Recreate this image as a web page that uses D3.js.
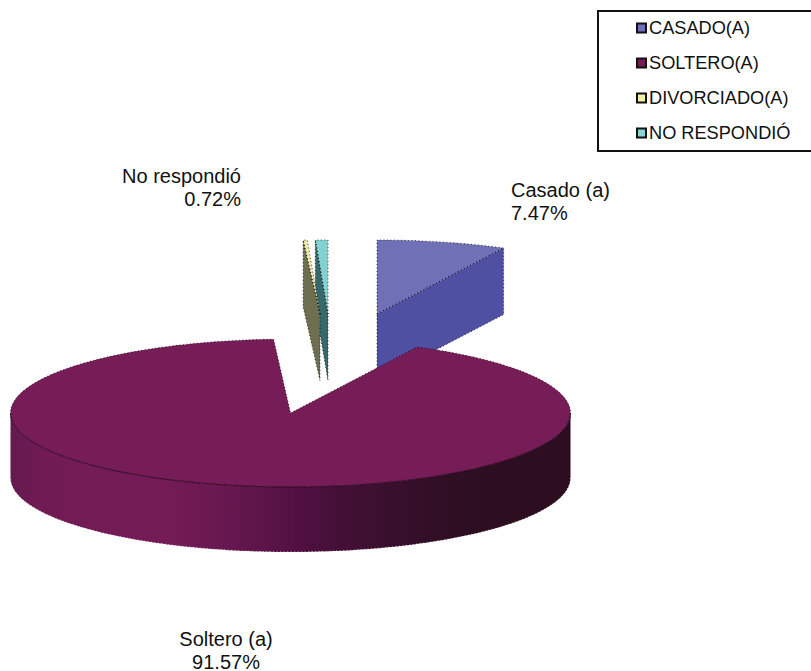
<!DOCTYPE html>
<html><head><meta charset="utf-8">
<script src="https://cdn.jsdelivr.net/npm/d3@7"></script>
<style>html,body{margin:0;padding:0;background:#fff}svg{display:block}text{font-family:"Liberation Sans",Arial,sans-serif;fill:#111}</style>
</head><body><svg id="c" width="811" height="671"></svg>
<script>
const categories = ["CASADO(A)","SOLTERO(A)","DIVORCIADO(A)","NO RESPONDIÓ"];
const values = [7.47,91.57,0.24,0.72];
const dataLabels = [["Casado (a)","7.47%"],["Soltero (a)","91.57%"],null,["No respondió","0.72%"]];
const topColors = ["#7070b6","#761c57","#e9e8a6","#82d2d2"];
const cutColors = ["#4f50a1","#5a1040","#6e6e50","#37686a"];
const swatchColors = ["#6e70b5","#761c57","#f5f0a0","#88d4d4"];

const svg = d3.select("#c");
const cx = 290.5, cy = 413, rx = 280, ry = 74, depth = 65, cutDepth = 66.5;
// explosion offsets of each slice apex, in pixels
const offX = [86.5,0,29.5,37.5], offY = [-99,0,-99,-99];

const arcs = d3.pie().sort(null).value(d=>d)(values);
const xs = d3.scaleLinear().domain([-1,1]).range([-rx,rx]);
const ys = d3.scaleLinear().domain([-1,1]).range([ry,-ry]);
const P = (a,i,dz=0)=>[cx+offX[i]+xs(Math.sin(a)), cy+offY[i]+ys(Math.cos(a))+dz];
const line = d3.line();
const arcPts = (a0,a1,i,dz=0)=>{const n=Math.max(2,Math.ceil((a1-a0)*60));
  return d3.range(n+1).map(k=>P(a0+(a1-a0)*k/n,i,dz));};
const speck = s=>s.attr("stroke","#000").attr("stroke-width",1).attr("stroke-dasharray","1 2.5").attr("stroke-opacity",.75).attr("fill","none");

// wall shading
const grad = svg.append("defs").append("linearGradient").attr("id","wall")
  .attr("gradientUnits","userSpaceOnUse").attr("x1",cx-rx).attr("x2",cx+rx).attr("y1",0).attr("y2",0);
[[0,"#641a50"],[.06,"#711b55"],[.28,"#741b55"],[.38,"#681850"],[.49,"#561145"],[.58,"#450f38"],[.72,"#340f28"],[.85,"#2c0e20"],[1,"#2c0e20"]]
  .forEach(s=>grad.append("stop").attr("offset",s[0]).attr("stop-color",s[1]));

const g = svg.append("g");
function slice(i){
  const a = arcs[i], apex=[cx+offX[i],cy+offY[i]];
  if(i===1){
    const wall = arcPts(Math.PI/2,3*Math.PI/2,i).concat(arcPts(Math.PI/2,3*Math.PI/2,i,depth).reverse());
    g.append("path").attr("d",line(wall)+"Z").attr("fill","url(#wall)");
    g.append("path").attr("d",line(arcPts(Math.PI/2,3*Math.PI/2,i,depth))).call(speck).attr("stroke","#fff").attr("stroke-opacity",.8);
    const top=[apex].concat(arcPts(a.startAngle,a.endAngle,i));
    g.append("path").attr("d",line(top)+"Z").attr("fill",topColors[i]);
    g.append("path").attr("d",line(top)+"Z").call(speck);
    g.append("path").attr("d",line(arcPts(Math.PI/2,3*Math.PI/2,i))).attr("fill","none").attr("stroke","#3a0c2a").attr("stroke-width",1);
    return;
  }
  // visible radial cut face: far edge for Casado, near edge for the left-hand slices
  const edge = i===0 ? a.endAngle : a.startAngle;
  const e = P(edge,i);
  const cut=[apex,e,[e[0],e[1]+cutDepth],[apex[0],apex[1]+cutDepth]];
  const top=[apex].concat(arcPts(a.startAngle,a.endAngle,i));
  g.append("path").attr("d",line(top)+"Z").attr("fill",topColors[i]);
  g.append("path").attr("d",line(cut)+"Z").attr("fill",cutColors[i]);
  g.append("path").attr("d",line(cut)+"Z").call(speck);
  g.append("path").attr("d",line(top)+"Z").call(speck);
}
[3,2,0,1].forEach(slice);

// data labels
const labelPos = [{x:511,y:197,a:"start"},{x:226,y:646,a:"middle"},null,{x:241,y:183,a:"end"}];
dataLabels.forEach((l,i)=>{ if(!l) return; const p=labelPos[i];
  const t=svg.append("text").attr("font-size",20).attr("text-anchor",p.a);
  l.forEach((s,k)=>t.append("tspan").attr("x",p.x).attr("y",p.y+k*22.5).text(s));
});

// legend
const leg = svg.append("g");
leg.append("rect").attr("x",598).attr("y",11).attr("width",240).attr("height",140).attr("fill","#fff").attr("stroke","#111").attr("stroke-width",2);
const ly = d3.scalePoint().domain(categories).range([28,133]);
categories.forEach((c,i)=>{
  leg.append("rect").attr("x",637).attr("y",ly(c)-4.5).attr("width",9).attr("height",9).attr("fill",swatchColors[i]).attr("stroke","#111").attr("stroke-width",2);
  leg.append("text").attr("x",649).attr("y",ly(c)+6).attr("font-size",18.2).text(c);
});
</script></body></html>
